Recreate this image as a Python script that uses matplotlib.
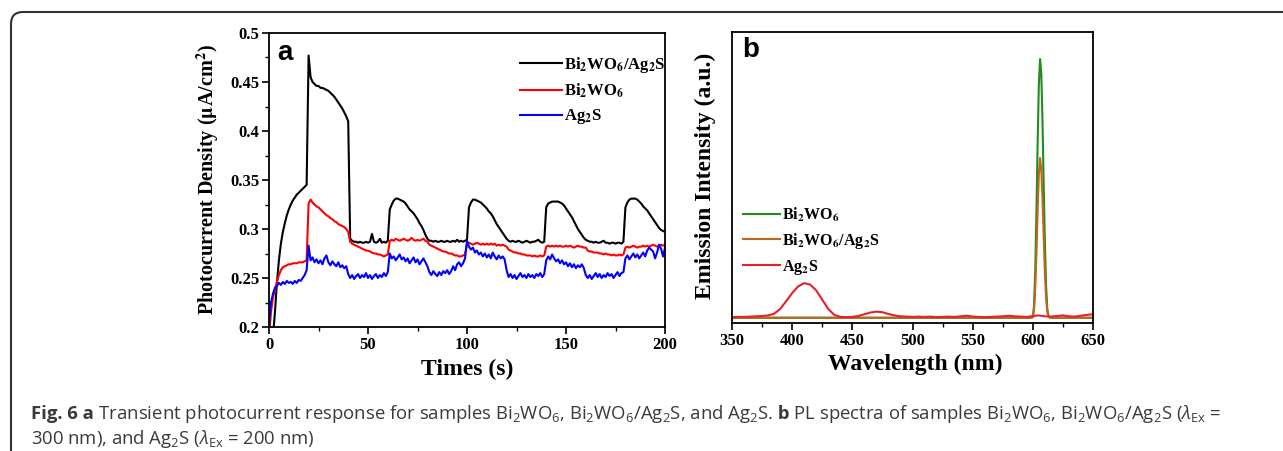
import matplotlib
matplotlib.use("Agg")
import matplotlib.pyplot as plt
import numpy as np
from matplotlib.patches import FancyBboxPatch
from matplotlib.ticker import MultipleLocator, FormatStrFormatter

# ---- panel a: transient photocurrent, 1 s sampling, 0..200 s ----
TIME_S = list(range(0, 201))

COMPOSITE = [  # Bi2WO6/Ag2S
    0.180, 0.180, 0.190, 0.215, 0.245, 0.268, 0.285, 0.297, 0.306, 0.314,  # 0-9
    0.320, 0.325, 0.329, 0.332, 0.335, 0.337, 0.339, 0.341, 0.343, 0.345,  # 10-19
    0.477, 0.455, 0.450, 0.448, 0.446, 0.446, 0.444, 0.444, 0.443, 0.442,  # 20-29
    0.441, 0.439, 0.437, 0.435, 0.432, 0.429, 0.426, 0.423, 0.419, 0.415,  # 30-39
    0.410, 0.290, 0.288, 0.287, 0.287, 0.286, 0.287, 0.286, 0.286, 0.287,  # 40-49
    0.286, 0.287, 0.295, 0.287, 0.286, 0.287, 0.290, 0.286, 0.287, 0.286,  # 50-59
    0.288, 0.320, 0.325, 0.329, 0.331, 0.331, 0.330, 0.329, 0.328, 0.326,  # 60-69
    0.323, 0.320, 0.318, 0.316, 0.313, 0.310, 0.306, 0.303, 0.299, 0.294,  # 70-79
    0.290, 0.288, 0.288, 0.287, 0.288, 0.287, 0.287, 0.288, 0.287, 0.287,  # 80-89
    0.288, 0.287, 0.287, 0.288, 0.287, 0.289, 0.287, 0.288, 0.287, 0.288,  # 90-99
    0.289, 0.322, 0.327, 0.330, 0.330, 0.329, 0.328, 0.327, 0.325, 0.323,  # 100-109
    0.321, 0.318, 0.316, 0.313, 0.309, 0.305, 0.302, 0.299, 0.296, 0.293,  # 110-119
    0.290, 0.288, 0.287, 0.288, 0.287, 0.287, 0.288, 0.287, 0.286, 0.287,  # 120-129
    0.288, 0.287, 0.286, 0.287, 0.287, 0.288, 0.289, 0.287, 0.286, 0.287,  # 130-139
    0.322, 0.326, 0.327, 0.328, 0.328, 0.328, 0.328, 0.327, 0.326, 0.324,  # 140-149
    0.321, 0.318, 0.315, 0.312, 0.308, 0.304, 0.300, 0.297, 0.294, 0.291,  # 150-159
    0.289, 0.288, 0.287, 0.287, 0.286, 0.287, 0.286, 0.286, 0.287, 0.288,  # 160-169
    0.286, 0.286, 0.285, 0.286, 0.286, 0.285, 0.286, 0.286, 0.285, 0.287,  # 170-179
    0.322, 0.327, 0.330, 0.331, 0.331, 0.331, 0.330, 0.328, 0.326, 0.323,  # 180-189
    0.321, 0.319, 0.316, 0.313, 0.310, 0.307, 0.304, 0.301, 0.299, 0.298,  # 190-199
    0.297,
]

BI2WO6 = [
    0.190, 0.215, 0.230, 0.238, 0.246, 0.253, 0.258, 0.261, 0.262, 0.263,  # 0-9
    0.264, 0.264, 0.265, 0.265, 0.265, 0.266, 0.266, 0.266, 0.267, 0.268,  # 10-19
    0.326, 0.330, 0.327, 0.325, 0.323, 0.322, 0.320, 0.318, 0.316, 0.314,  # 20-29
    0.313, 0.311, 0.310, 0.308, 0.307, 0.305, 0.304, 0.303, 0.302, 0.300,  # 30-39
    0.297, 0.287, 0.285, 0.284, 0.283, 0.282, 0.281, 0.280, 0.279, 0.278,  # 40-49
    0.278, 0.277, 0.276, 0.275, 0.275, 0.274, 0.274, 0.273, 0.272, 0.273,  # 50-59
    0.274, 0.288, 0.289, 0.288, 0.290, 0.289, 0.288, 0.289, 0.290, 0.289,  # 60-69
    0.288, 0.289, 0.291, 0.289, 0.288, 0.289, 0.288, 0.289, 0.290, 0.288,  # 70-79
    0.287, 0.284, 0.283, 0.282, 0.281, 0.280, 0.279, 0.278, 0.277, 0.277,  # 80-89
    0.276, 0.275, 0.275, 0.274, 0.273, 0.273, 0.272, 0.272, 0.273, 0.274,  # 90-99
    0.285, 0.286, 0.285, 0.284, 0.285, 0.286, 0.285, 0.284, 0.285, 0.284,  # 100-109
    0.285, 0.284, 0.285, 0.284, 0.285, 0.283, 0.284, 0.283, 0.284, 0.283,  # 110-119
    0.282, 0.279, 0.278, 0.277, 0.276, 0.276, 0.275, 0.275, 0.274, 0.274,  # 120-129
    0.273, 0.273, 0.273, 0.272, 0.273, 0.272, 0.272, 0.273, 0.272, 0.273,  # 130-139
    0.282, 0.283, 0.282, 0.283, 0.282, 0.283, 0.282, 0.283, 0.282, 0.282,  # 140-149
    0.283, 0.282, 0.283, 0.282, 0.281, 0.282, 0.283, 0.282, 0.282, 0.281,  # 150-159
    0.281, 0.278, 0.277, 0.277, 0.276, 0.276, 0.276, 0.275, 0.275, 0.274,  # 160-169
    0.275, 0.274, 0.274, 0.273, 0.274, 0.273, 0.273, 0.274, 0.273, 0.274,  # 170-179
    0.281, 0.282, 0.281, 0.282, 0.283, 0.282, 0.281, 0.282, 0.282, 0.283,  # 180-189
    0.282, 0.283, 0.282, 0.283, 0.284, 0.283, 0.282, 0.283, 0.284, 0.283,  # 190-199
    0.284,
]

AG2S = [
    0.200, 0.225, 0.234, 0.240, 0.242, 0.245, 0.243, 0.246, 0.244, 0.247,  # 0-9
    0.245, 0.246, 0.244, 0.247, 0.245, 0.248, 0.247, 0.250, 0.253, 0.258,  # 10-19
    0.283, 0.268, 0.271, 0.266, 0.269, 0.265, 0.268, 0.264, 0.270, 0.273,  # 20-29
    0.266, 0.263, 0.267, 0.264, 0.262, 0.266, 0.261, 0.263, 0.260, 0.262,  # 30-39
    0.254, 0.250, 0.253, 0.249, 0.252, 0.254, 0.250, 0.253, 0.251, 0.255,  # 40-49
    0.250, 0.253, 0.249, 0.252, 0.254, 0.250, 0.253, 0.251, 0.255, 0.252,  # 50-59
    0.256, 0.275, 0.270, 0.272, 0.268, 0.271, 0.274, 0.269, 0.271, 0.267,  # 60-69
    0.270, 0.265, 0.268, 0.271, 0.266, 0.269, 0.264, 0.267, 0.270, 0.266,  # 70-79
    0.262, 0.256, 0.253, 0.257, 0.254, 0.252, 0.256, 0.253, 0.257, 0.255,  # 80-89
    0.258, 0.254, 0.257, 0.262, 0.258, 0.264, 0.266, 0.262, 0.265, 0.270,  # 90-99
    0.288, 0.282, 0.279, 0.281, 0.276, 0.278, 0.274, 0.276, 0.272, 0.275,  # 100-109
    0.271, 0.274, 0.270, 0.276, 0.272, 0.269, 0.273, 0.270, 0.272, 0.269,  # 110-119
    0.258, 0.251, 0.254, 0.250, 0.253, 0.249, 0.252, 0.255, 0.251, 0.253,  # 120-129
    0.250, 0.254, 0.251, 0.253, 0.250, 0.254, 0.252, 0.255, 0.251, 0.254,  # 130-139
    0.268, 0.272, 0.269, 0.274, 0.270, 0.267, 0.269, 0.265, 0.268, 0.264,  # 140-149
    0.266, 0.262, 0.265, 0.261, 0.264, 0.260, 0.263, 0.261, 0.264, 0.260,  # 150-159
    0.253, 0.250, 0.253, 0.249, 0.252, 0.255, 0.251, 0.254, 0.250, 0.253,  # 160-169
    0.251, 0.255, 0.252, 0.254, 0.250, 0.253, 0.256, 0.252, 0.255, 0.256,  # 170-179
    0.270, 0.273, 0.269, 0.272, 0.275, 0.271, 0.274, 0.270, 0.273, 0.276,  # 180-189
    0.272, 0.278, 0.281, 0.279, 0.277, 0.270, 0.276, 0.284, 0.280, 0.272,  # 190-199
    0.281,
]

A_LABELS = [r"Bi$_\mathbf{2}$WO$_\mathbf{6}$/Ag$_\mathbf{2}$S",
            r"Bi$_\mathbf{2}$WO$_\mathbf{6}$",
            r"Ag$_\mathbf{2}$S"]
A_COLORS = ["black", "#ff0000", "#0000ff"]

# ---- panel b: PL spectra ----
PEAK_WL = [350, 400, 450, 500, 550, 590, 598, 600, 601, 602, 603, 604, 605,
           606, 607, 608, 609, 610, 611, 612, 613, 614, 616, 620, 650]
PL_BI2WO6 = [1.8, 1.8, 1.8, 1.8, 1.8, 1.8, 1.8, 2.0, 6.0, 18.0, 38.0, 62.0, 82.0,
             90.7, 86.0, 70.0, 48.0, 28.0, 13.0, 5.0, 2.5, 1.9, 1.8, 1.8, 1.8]
PL_COMPOSITE = [1.8, 1.8, 1.8, 1.8, 1.8, 1.8, 1.8, 2.0, 4.5, 12.0, 24.0, 39.0, 51.0,
                56.7, 53.0, 43.0, 30.0, 17.5, 8.5, 3.8, 2.2, 1.9, 1.8, 1.8, 1.8]

AG2S_WL = list(range(350, 651, 5))
PL_AG2S = [2.0, 2.1, 2.1, 2.2, 2.3, 2.4, 2.6, 3.2, 4.8, 7.5,      # 350-395
           10.3, 12.6, 13.7, 13.2, 11.2, 8.0, 4.8, 2.8, 2.1, 2.0,  # 400-445
           2.1, 2.4, 3.0, 3.6, 3.9, 3.7, 3.1, 2.6, 2.3, 2.2,       # 450-495
           2.1, 2.2, 2.1, 2.2, 2.0, 2.1, 2.2, 2.1, 2.3, 2.5,       # 500-545
           2.2, 2.1, 2.0, 2.1, 2.2, 2.3, 2.5, 2.3, 2.2, 2.1,       # 550-595
           2.4, 2.6, 2.3, 2.2, 2.4, 2.6, 2.3, 2.2, 2.5, 2.8,       # 600-645
           3.0]                                                     # 650

B_LABELS = [r"Bi$_\mathbf{2}$WO$_\mathbf{6}$",
            r"Bi$_\mathbf{2}$WO$_\mathbf{6}$/Ag$_\mathbf{2}$S",
            r"Ag$_\mathbf{2}$S"]
B_COLORS = ["#1e8c1e", "#c0661c", "#e8202a"]

# caption runs: (text, bold?)
CAPTION_1 = [("Fig. 6 a", True),
             (" Transient photocurrent response for samples Bi$_2$WO$_6$, "
              "Bi$_2$WO$_6$/Ag$_2$S, and Ag$_2$S.", False),
             (" b", True),
             (" PL spectra of samples Bi$_2$WO$_6$, Bi$_2$WO$_6$/Ag$_2$S "
              r"($\mathit{\lambda}_{\mathrm{Ex}}$ =", False)]
CAPTION_2 = [(r"300 nm), and Ag$_2$S ($\mathit{\lambda}_{\mathrm{Ex}}$ = 200 nm)", False)]

W, H = 1283, 451

plt.rcParams["font.family"] = ["Liberation Serif", "DejaVu Serif"]
plt.rcParams["font.weight"] = "bold"
plt.rcParams["mathtext.fontset"] = "stix"
plt.rcParams["mathtext.rm"] = "Open Sans:normal"
plt.rcParams["mathtext.bf"] = "Open Sans:bold"
plt.rcParams["mathtext.it"] = "Open Sans:italic:normal"


def px_axes(fig, left, top, right, bottom):
    return fig.add_axes([left / W, 1 - bottom / H, (right - left) / W, (bottom - top) / H])


def style_axes(ax):
    for sp in ax.spines.values():
        sp.set_linewidth(1.3)
    ax.tick_params(which="major", direction="out", length=5, width=1.2,
                   labelsize=12, pad=2)
    ax.tick_params(which="minor", direction="out", length=3, width=1.0)
    for lab in ax.get_xticklabels() + ax.get_yticklabels():
        lab.set_fontweight("bold")


def caption_line(fig, x_px, y_px, runs, size):
    renderer = fig.canvas.get_renderer()
    for text, bold in runs:
        t = fig.text(x_px / W, 1 - y_px / H, text, fontsize=size,
                     family=["Open Sans", "DejaVu Sans"],
                     fontweight="bold" if bold else "normal",
                     color="#3a3a3a", va="baseline", ha="left")
        t.set_math_fontfamily("custom")
        x_px += t.get_window_extent(renderer).width


fig = plt.figure(figsize=(W / 100, H / 100), dpi=100)

# rounded frame of the figure box
frame = FancyBboxPatch((0.11, -0.5), 14.0, H / 100 - 0.12 + 0.5,
                       boxstyle="round,pad=0,rounding_size=0.12",
                       transform=fig.dpi_scale_trans, fill=False,
                       edgecolor="#333333", linewidth=1.5)
fig.add_artist(frame)

# ---- panel a ----
ax1 = px_axes(fig, 269, 33, 665, 327)
for vals, lab, col in zip([COMPOSITE, BI2WO6, AG2S], A_LABELS, A_COLORS):
    ax1.plot(TIME_S, vals, color=col, lw=1.5, label=lab)
ax1.set_xlim(0, 200)
ax1.set_ylim(0.2, 0.5)
ax1.xaxis.set_major_locator(MultipleLocator(50))
ax1.xaxis.set_minor_locator(MultipleLocator(25))
ax1.yaxis.set_major_locator(MultipleLocator(0.05))
ax1.yaxis.set_minor_locator(MultipleLocator(0.025))
ax1.yaxis.set_major_formatter(FormatStrFormatter("%g"))
style_axes(ax1)
ax1.set_xlabel("Times (s)", fontsize=17, fontweight="bold")
ax1.xaxis.label.set_va("center")
ax1.xaxis.set_label_coords(0.5, -0.143)
yl = ax1.set_ylabel(r"Photocurrent Density ($\mathbf{\mu}$A/cm$^\mathbf{2}$)",
                    fontsize=14.5, fontweight="bold")
yl.set_va("center")
ax1.yaxis.set_label_coords(-0.154, 0.5)
ax1.text(0.02, 0.908, "a", transform=ax1.transAxes, fontsize=20,
         fontweight="bold", family="Liberation Sans", va="baseline")
ax1.legend(loc="upper left", bbox_to_anchor=(0.634, 0.925), frameon=False,
           prop={"size": 12, "weight": "bold"}, handlelength=2.5,
           handletextpad=0.15, labelspacing=0.42, borderpad=0,
           borderaxespad=0)

# ---- panel b ----
ax2 = px_axes(fig, 732, 32, 1093, 323)
ax2.plot(PEAK_WL, PL_BI2WO6, color=B_COLORS[0], lw=1.5, label=B_LABELS[0])
ax2.plot(PEAK_WL, PL_COMPOSITE, color=B_COLORS[1], lw=1.5, label=B_LABELS[1])
ax2.plot(AG2S_WL, PL_AG2S, color=B_COLORS[2], lw=1.5, label=B_LABELS[2])
ax2.set_xlim(350, 650)
ax2.set_ylim(0, 100)
ax2.xaxis.set_major_locator(MultipleLocator(50))
ax2.xaxis.set_minor_locator(MultipleLocator(25))
ax2.set_yticks([])
style_axes(ax2)
ax2.set_xlabel("Wavelength (nm)", fontsize=17, fontweight="bold")
ax2.xaxis.label.set_va("center")
ax2.xaxis.set_label_coords(0.507, -0.144)
ax2.set_ylabel("Emission Intensity (a.u.)", fontsize=17, fontweight="bold")
ax2.yaxis.label.set_va("center")
ax2.yaxis.set_label_coords(-0.075, 0.505)
ax2.text(0.028, 0.914, "b", transform=ax2.transAxes, fontsize=20,
         fontweight="bold", family="Liberation Sans", va="baseline")
ax2.legend(loc="upper left", bbox_to_anchor=(0.03, 0.405), frameon=False,
           prop={"size": 11.5, "weight": "bold"}, handlelength=2.3,
           handletextpad=0.15, labelspacing=0.45, borderpad=0,
           borderaxespad=0)

# ---- caption ----
caption_line(fig, 31, 419, CAPTION_1, 13.3)
caption_line(fig, 31, 444, CAPTION_2, 13.3)

fig.savefig("out.png", dpi=100)
